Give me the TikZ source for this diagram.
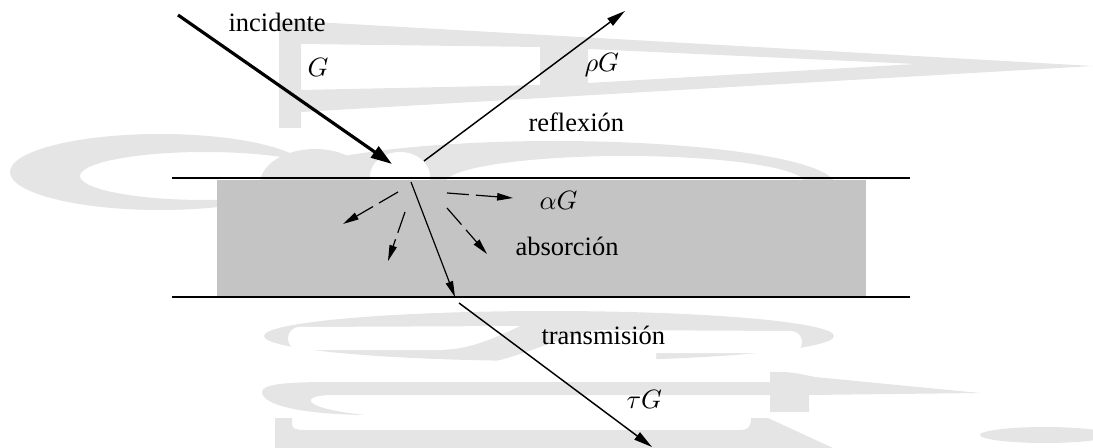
\documentclass[tikz,border=0pt]{standalone}
\usepackage{fontspec}
\setmainfont{Liberation Serif}
\usetikzlibrary{arrows.meta}
\definecolor{wm}{RGB}{229,229,229}
\definecolor{plate}{RGB}{196,196,196}
\tikzset{
  lbl/.style={inner sep=0pt, anchor=base west, font=\fontsize{10}{12}\selectfont},
  heavy/.style={line width=1.2pt, -{Triangle[length=8pt,width=5pt]}},
  ray/.style={line width=0.55pt, -{Triangle[length=7pt,width=3.4pt]}},
  thinray/.style={line width=0.45pt, -{Triangle[length=6pt,width=2.8pt]}},
  dray/.style={line width=0.45pt, dash pattern=on 8.3pt off 2.6pt, -{Triangle[length=6pt,width=2.8pt]}},
  layer/.style={line width=0.8pt},
}
\begin{document}
\begin{tikzpicture}[x=0.3774pt,y=-0.3774pt]
\useasboundingbox (0,0) rectangle (1093,448);
\clip (0,0) rectangle (1093,448);
% ---------- watermark ----------
\fill[wm, even odd rule] (279,20) -- (1093,66) -- (301,112) -- (301,128) -- (279,128) -- cycle
  (301,44) -- (540,47) -- (540,85) -- (301,90) -- cycle
  (588,49) -- (916,64) -- (588,83) -- cycle;
\fill[wm, even odd rule] (160,172) ellipse [x radius=150, y radius=38]
  (205,176) ellipse [x radius=125, y radius=24];
\fill[wm, even odd rule] (555,185) ellipse [x radius=280, y radius=44]
  (625,183) ellipse [x radius=180, y radius=27]
  (400,176) ellipse [x radius=30, y radius=24];
\fill[wm] (315,184) ellipse [x radius=55, y radius=35];
% ring below the plate
\fill[wm] (549,336) ellipse [x radius=285, y radius=25];
\fill[white] (300,327) -- (520,326) .. controls (490,340) and (470,349) .. (440,350)
  -- (300,350) .. controls (284,350) and (284,327) .. (300,327) -- cycle;
\fill[white] (600,330) -- (790,331) .. controls (806,331) and (806,353) .. (790,353)
  -- (656,353) -- (656,366) -- (470,366) .. controls (520,360) and (560,335) .. (600,330) -- cycle;
% upper arm with curl and t-bar
\fill[wm] (770,382) -- (770,372) .. controls (790,371) and (800,374) .. (815,377) -- (980,393)
  -- (809,395) -- (809,412) -- (770,412) -- (770,395) -- (330,395)
  .. controls (300,396) and (300,408) .. (365,415)
  .. controls (300,414) and (262,405) .. (262,392)
  .. controls (262,385) and (280,382) .. (330,382) -- cycle;
% base
\fill[wm] (275,418) -- (292,418) -- (292,424) .. controls (292,429) and (296,430) .. (305,430)
  -- (740,430) .. controls (748,430) and (751,427) .. (751,418) -- (768,418) -- (833,448)
  -- (275,448) -- cycle;
\fill[wm] (1045,435) ellipse [x radius=65, y radius=8];
% ---------- plate ----------
\fill[plate] (217,180) rectangle (866,296);
\coordinate (L1a) at (172,178); \coordinate (L1b) at (910,178);
\coordinate (L2a) at (172,297); \coordinate (L2b) at (910,297);
\draw[layer] (L1a) -- (L1b);
\draw[layer] (L2a) -- (L2b);
% ---------- labels ----------
\node[lbl] (inc) at (228,32) {incidente};
\node[lbl] (G) at (307,77) {$G$};
\node[lbl] (rG) at (584,72) {$\rho G$};
\node[lbl] (refl) at (528,132) {reflexión};
\node[lbl] (aG) at (539,210) {$\alpha G$};
\node[lbl] (abs) at (515,255) {absorción};
\node[lbl] (tra) at (541,344) {transmisión};
\node[lbl] (tG) at (626,408) {$\tau G$};
% ---------- rays ----------
\coordinate (i0) at (178,15);  \coordinate (i1) at (392,164);
\coordinate (r0) at (424,161); \coordinate (r1) at (625,11);
\coordinate (t0) at (411,182); \coordinate (t1) at (455,297);
\coordinate (t2) at (459,303); \coordinate (t3) at (652,447);
\coordinate (d1a) at (398,192); \coordinate (d1b) at (343,224);
\coordinate (d2a) at (405,212); \coordinate (d2b) at (388,261);
\coordinate (d3a) at (447,193); \coordinate (d3b) at (513,198);
\coordinate (d4a) at (447,208); \coordinate (d4b) at (487,254);
\draw[heavy] (i0) -- (i1);
\draw[ray] (r0) -- (r1);
\draw[thinray] (t0) -- (t1);
\draw[ray] (t2) -- (t3);
\draw[dray] (d1a) -- (d1b);
\draw[dray] (d2a) -- (d2b);
\draw[dray] (d3a) -- (d3b);
\draw[dray] (d4a) -- (d4b);
\end{tikzpicture}
\end{document}
